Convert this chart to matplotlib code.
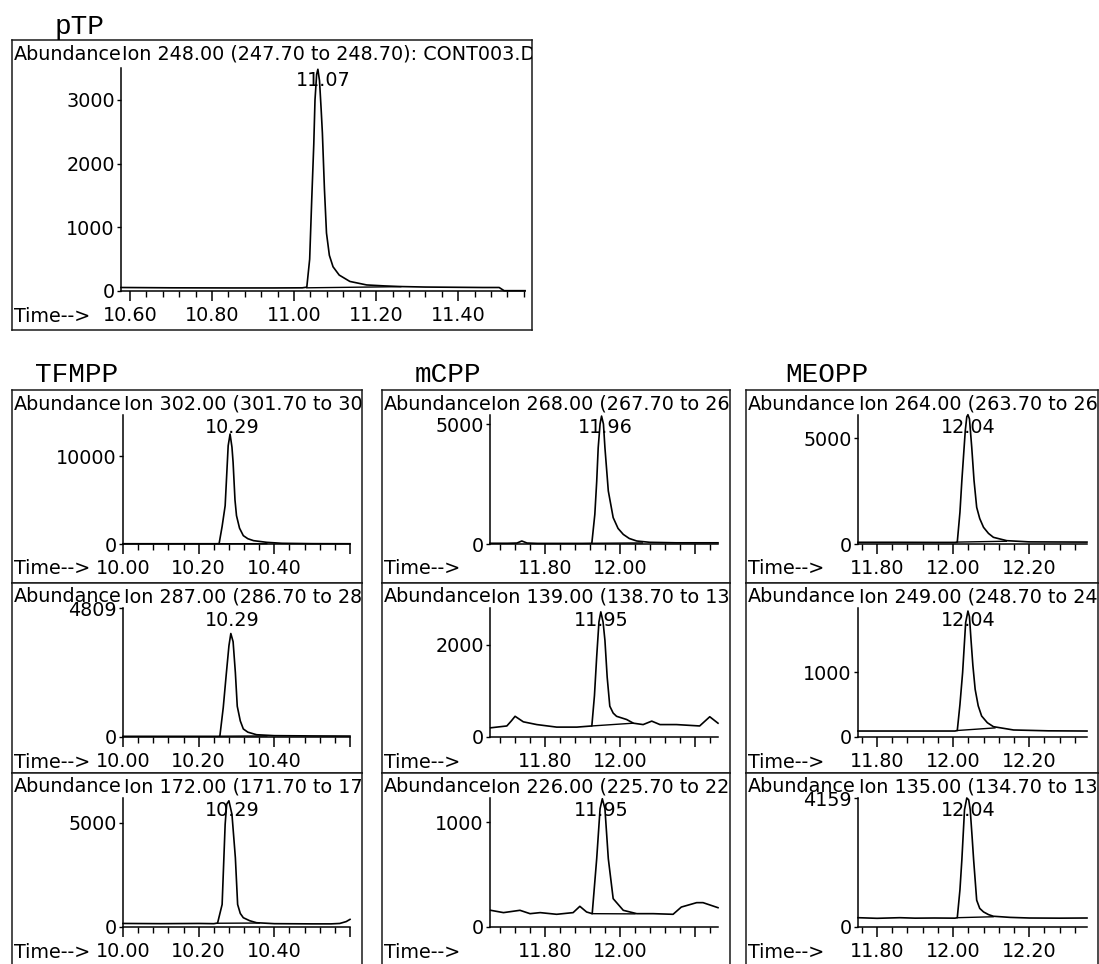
import numpy as np
import matplotlib
matplotlib.use("Agg")
import matplotlib.pyplot as plt

plt.rcParams['font.family'] = ['DejaVu Sans']
plt.rcParams['font.size'] = 13.8

# ---------------- data (time in min, abundance) ----------------
ptp_t = [10.578, 10.70, 10.85, 10.95, 11.02, 11.031, 11.038, 11.043, 11.048, 11.051, 11.055,
         11.058, 11.062, 11.066, 11.069, 11.074, 11.079, 11.086, 11.095, 11.11, 11.136, 11.177,
         11.22, 11.258, 11.32, 11.40, 11.46, 11.50, 11.512, 11.563]
ptp_y = [55, 50, 48, 48, 50, 60, 500, 1430, 2300, 3000, 3400, 3480, 3300, 2850, 2480, 1600,
         910, 560, 380, 250, 150, 95, 80, 70, 62, 58, 55, 55, 5, 5]

tfmpp302_t = [10.00, 10.10, 10.20, 10.245, 10.254, 10.262, 10.27, 10.278, 10.283, 10.288, 10.291,
              10.296, 10.30, 10.308, 10.318, 10.33, 10.345, 10.38, 10.42, 10.50, 10.60]
tfmpp302_y = [30, 30, 30, 30, 40, 2000, 4350, 11170, 12500, 11000, 9280, 5000, 3220, 1800, 950,
              600, 380, 190, 80, 40, 30]

tfmpp287_t = [10.00, 10.10, 10.20, 10.25, 10.256, 10.265, 10.273, 10.28, 10.285, 10.291, 10.297,
              10.302, 10.31, 10.318, 10.33, 10.353, 10.40, 10.50, 10.60]
tfmpp287_y = [25, 25, 25, 25, 30, 1100, 2350, 3400, 3858, 3554, 2400, 1146, 600, 300, 180, 85,
              50, 40, 35]

tfmpp172_t = [10.00, 10.10, 10.20, 10.24, 10.25, 10.262, 10.27, 10.274, 10.28, 10.288, 10.297,
              10.303, 10.31, 10.318, 10.335, 10.353, 10.40, 10.50, 10.55, 10.573, 10.59, 10.60]
tfmpp172_y = [170, 160, 170, 160, 190, 1080, 4920, 5880, 6050, 5400, 3320, 1080, 650, 445, 300,
              205, 160, 150, 150, 170, 260, 365]

mcpp268_t = [11.653, 11.70, 11.725, 11.738, 11.752, 11.78, 11.85, 11.90, 11.925, 11.933, 11.938,
             11.942, 11.947, 11.951, 11.956, 11.96, 11.969, 11.982, 11.995, 12.009, 12.025,
             12.045, 12.08, 12.15, 12.262]
mcpp268_y = [30, 30, 40, 125, 40, 25, 25, 25, 30, 1236, 2600, 4010, 5000, 5330, 5000, 4010, 2210,
             1100, 650, 400, 230, 125, 70, 50, 50]

mcpp139_t = [11.655, 11.698, 11.71, 11.72, 11.742, 11.778, 11.831, 11.885, 11.925, 11.932,
             11.938, 11.944, 11.949, 11.955, 11.96, 11.966, 11.973, 11.982, 11.991, 12.018,
             12.036, 12.062, 12.085, 12.107, 12.151, 12.213, 12.24, 12.262]
mcpp139_y = [200, 240, 350, 450, 330, 270, 215, 215, 240, 900, 1750, 2500, 2720, 2500, 2100,
             1300, 670, 520, 450, 380, 300, 270, 345, 270, 270, 240, 440, 300]

mcpp226_t = [11.655, 11.689, 11.733, 11.76, 11.787, 11.831, 11.875, 11.893, 11.911, 11.926,
             11.938, 11.947, 11.953, 11.96, 11.969, 11.982, 12.009, 12.045, 12.089, 12.142,
             12.164, 12.205, 12.222, 12.262]
mcpp226_y = [159, 137, 159, 127, 137, 121, 137, 197, 143, 127, 651, 1127, 1222, 1127, 651, 270,
             159, 127, 127, 121, 190, 232, 232, 184]

meopp264_t = [11.75, 11.85, 11.95, 12.005, 12.011, 12.018, 12.023, 12.028, 12.032, 12.036,
              12.039, 12.043, 12.049, 12.055, 12.062, 12.07, 12.08, 12.093, 12.106, 12.141,
              12.20, 12.352]
meopp264_y = [80, 80, 75, 75, 90, 1500, 2987, 4300, 5346, 6000, 6100, 5900, 4560, 3000, 1730,
              1200, 786, 500, 315, 157, 100, 90]

meopp249_t = [11.75, 11.85, 11.95, 12.005, 12.011, 12.018, 12.025, 12.033, 12.039, 12.043,
              12.047, 12.052, 12.058, 12.066, 12.075, 12.09, 12.106, 12.159, 12.25, 12.352]
meopp249_y = [92, 92, 92, 92, 100, 500, 990, 1760, 1938, 1850, 1503, 1100, 733, 480, 323, 220,
              159, 108, 95, 92]

meopp135_t = [11.75, 11.80, 11.86, 11.90, 11.95, 12.005, 12.011, 12.018, 12.023, 12.03, 12.036,
              12.041, 12.045, 12.05, 12.054, 12.062, 12.07, 12.08, 12.093, 12.106, 12.15, 12.20,
              12.28, 12.352]
meopp135_y = [300, 280, 300, 285, 290, 285, 300, 1200, 2160, 3780, 4159, 4100, 3780, 2900, 2160,
              864, 600, 486, 400, 346, 310, 290, 285, 290]

# integration baselines under the peaks
ptp_base = ([11.031, 11.26], [50, 68])
tfmpp302_base = ([10.254, 10.38], [35, 40])
tfmpp287_base = ([10.256, 10.38], [30, 40])
tfmpp172_base = ([10.25, 10.36], [180, 190])
mcpp268_base = ([11.925, 12.06], [30, 45])
mcpp139_base = ([11.925, 12.035], [240, 300])
mcpp226_base = ([11.926, 12.04], [127, 125])
meopp264_base = ([12.011, 12.14], [90, 130])
meopp249_base = ([12.011, 12.11], [100, 140])
meopp135_base = ([12.011, 12.105], [300, 330])

ions = ["Ion 248.00 (247.70 to 248.70): CONT003.D",
        "Ion 302.00 (301.70 to 302.70)", "Ion 287.00 (286.70 to 287.70)", "Ion 172.00 (171.70 to 172.70)",
        "Ion 268.00 (267.70 to 268.70)", "Ion 139.00 (138.70 to 139.70)", "Ion 226.00 (225.70 to 226.70)",
        "Ion 264.00 (263.70 to 264.70)", "Ion 249.00 (248.70 to 249.70)", "Ion 135.00 (134.70 to 135.70)"]
apex_labels = ["11.07", "10.29", "10.29", "10.29", "11.96", "11.95", "11.95", "12.04", "12.04", "12.04"]
ymax = [3500, 14660, 4809, 6184, 5375, 2804, 1229, 6085, 1985, 4159]
yticks = [[0, 1000, 2000, 3000], [0, 10000], [0, 4809], [0, 5000], [0, 5000], [0, 2000],
          [0, 1000], [0, 5000], [0, 1000], [0, 4159]]
xlims = [(10.578, 11.563), (10.0, 10.60), (11.653, 12.262), (11.75, 12.352)]
xlabels = [["10.60", "10.80", "11.00", "11.20", "11.40"], ["10.00", "10.20", "10.40"],
           ["11.80", "12.00"], ["11.80", "12.00", "12.20"]]
titles = ["pTP", "TFMPP", "mCPP", "MEOPP"]

series = [(ptp_t, ptp_y, ptp_base),
          (tfmpp302_t, tfmpp302_y, tfmpp302_base), (tfmpp287_t, tfmpp287_y, tfmpp287_base),
          (tfmpp172_t, tfmpp172_y, tfmpp172_base),
          (mcpp268_t, mcpp268_y, mcpp268_base), (mcpp139_t, mcpp139_y, mcpp139_base),
          (mcpp226_t, mcpp226_y, mcpp226_base),
          (meopp264_t, meopp264_y, meopp264_base), (meopp249_t, meopp249_y, meopp249_base),
          (meopp135_t, meopp135_y, meopp135_base)]

# ---------------- layout (pixels, origin top-left) ----------------
W, H = 1099, 964
fig = plt.figure(figsize=(W / 100, H / 100), dpi=100)
fig.patch.set_facecolor('white')


def fx(x):
    return x / W


def rect(x0, y0, x1, y1):
    return [x0 / W, 1 - y1 / H, (x1 - x0) / W, (y1 - y0) / H]


def panel(i, box, axbox, col):
    bx0, by0, bx1, by1 = box
    ax0, ay0, ax1, ay1 = axbox
    # outer frame, clips the header text like the instrument printout
    b = fig.add_axes(rect(*box))
    b.set_xticks([])
    b.set_yticks([])
    for s in b.spines.values():
        s.set_linewidth(1.1)
        s.set_color('#1a1a1a')
    ty = 1 - (by0 + 14) / H
    b.text(fx(bx0 + 2), ty, "Abundance", transform=fig.transFigure, va='center', ha='left', clip_on=True)
    b.text(fx(ax0 + 1), ty, ions[i], transform=fig.transFigure, va='center', ha='left', clip_on=True)

    ax = fig.add_axes(rect(*axbox))
    ax.set_facecolor('none')
    t, y, base = series[i]
    ax.plot(t, y, color='black', lw=1.2, clip_on=False)
    ax.plot(base[0], base[1], color='black', lw=1.0, clip_on=False)
    ax.set_xlim(*xlims[col])
    ax.set_ylim(0, ymax[i])
    ax.spines['top'].set_visible(False)
    ax.spines['right'].set_visible(False)
    ax.spines['left'].set_linewidth(1.1)
    ax.spines['bottom'].set_linewidth(1.1)
    lo, hi = xlims[col]
    major = [round(v, 2) for v in np.arange(np.ceil(lo / 0.2 - 1e-6) * 0.2, hi + 1e-6, 0.2)]
    minor = [round(v, 2) for v in np.arange(np.ceil(lo / 0.04 - 1e-6) * 0.04, hi + 1e-6, 0.04)]
    ax.set_xticks(major)
    ax.set_xticklabels([f"{v:.2f}" if f"{v:.2f}" in xlabels[col] else "" for v in major])
    ax.set_xticks(minor, minor=True)
    ax.tick_params(axis='x', which='major', direction='out', length=7, width=1.1, pad=3.5)
    ax.tick_params(axis='x', which='minor', direction='out', length=4.5, width=1.0)
    ax.set_yticks(yticks[i])
    ax.set_yticklabels([str(v) for v in yticks[i]])
    ax.tick_params(axis='y', direction='out', length=3, width=1.0, pad=1.5)
    hpx = ay1 - ay0
    ax.text(float(apex_labels[i]), 1 - 12.5 / hpx, apex_labels[i], transform=ax.get_xaxis_transform(),
            ha='center', va='center')
    fig.text(fx(bx0 + 2), 1 - (ay1 + 25) / H, "Time-->", va='center', ha='left')


# top panel
panel(0, (12, 40, 532, 330), (121, 68, 525, 291), 0)
fig.text(fx(55), 1 - 34 / H, titles[0], family='Liberation Mono', fontsize=20, va='baseline')

col_box = [(12, 362), (382, 730), (746, 1098)]
col_ax = [(123, 350), (490, 718), (858, 1087)]
row_box = [(390, 583), (583, 773), (773, 966)]
title_x = [35, 415, 785]
for c in range(3):
    for r in range(3):
        i = 1 + c * 3 + r
        bt, bb = row_box[r]
        panel(i, (col_box[c][0], bt, col_box[c][1], bb), (col_ax[c][0], bt + 25, col_ax[c][1], bt + 154), c + 1)
    fig.text(fx(title_x[c]), 1 - 382 / H, titles[c + 1], family='Liberation Mono', fontsize=20, va='baseline')

fig.savefig("out.png", dpi=100, facecolor='white')
